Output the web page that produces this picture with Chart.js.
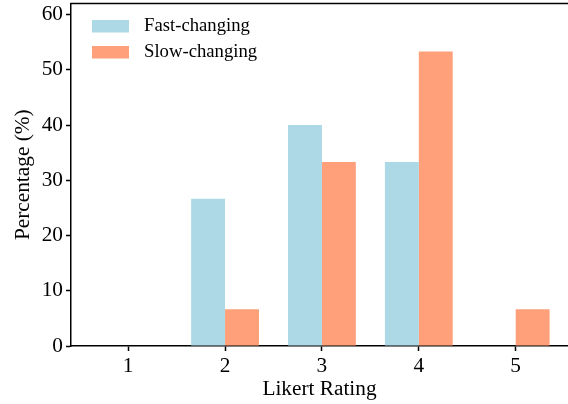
<!DOCTYPE html>
<html>
<head>
<meta charset="utf-8">
<script src="https://cdn.jsdelivr.net/npm/chart.js@4/dist/chart.umd.min.js"></script>
<style>
  html, body { margin: 0; padding: 0; background: #fff; }
  canvas { display: block; }
</style>
</head>
<body>
<canvas id="likert-canvas" width="568" height="404"></canvas>
<script>
var ratings = [1, 2, 3, 4, 5];
var ratingLabels = ['1', '2', '3', '4', '5'];
var fastValues = [0, 26.67, 40, 33.33, 0];
var slowValues = [0, 6.67, 33.33, 53.33, 6.67];
var yTicks = [0, 10, 20, 30, 40, 50, 60];

var fontFamily = '"Liberation Serif", "Times New Roman", serif';

// top spine (no right spine, it falls outside the canvas)
var topSpine = {
    id: 'topSpine',
    afterDraw: function(chart) {
        var ctx = chart.ctx, a = chart.chartArea;
        ctx.save();
        ctx.strokeStyle = '#000';
        ctx.lineWidth = 1.5;
        ctx.beginPath();
        ctx.moveTo(a.left - 0.75, a.top);
        ctx.lineTo(a.right, a.top);
        ctx.stroke();
        ctx.restore();
    }
};

// legend drawn inside the plot, upper left
var innerLegend = {
    id: 'innerLegend',
    afterDraw: function(chart) {
        var ctx = chart.ctx, a = chart.chartArea;
        ctx.save();
        ctx.font = '18.7px ' + fontFamily;
        ctx.textBaseline = 'middle';
        ctx.textAlign = 'left';
        chart.data.datasets.forEach(function(ds, i) {
            var y = a.top + 16.5 + i * 26;
            ctx.fillStyle = ds.backgroundColor;
            ctx.fillRect(a.left + 21, y, 37, 12.5);
            ctx.fillStyle = '#000';
            ctx.fillText(ds.label, a.left + 73, y + 6.5);
        });
        ctx.restore();
    }
};

var ctx = document.getElementById('likert-canvas').getContext('2d');

var likertChart = new Chart(ctx, {
    type: 'bar',
    data: {
        datasets: [
            {
                label: 'Fast-changing',
                data: ratings.map(function(r, i) { return {x: r, y: fastValues[i]}; }),
                backgroundColor: '#ADD8E6',
                borderWidth: 0
            },
            {
                label: 'Slow-changing',
                data: ratings.map(function(r, i) { return {x: r, y: slowValues[i]}; }),
                backgroundColor: '#FFA07A',
                borderWidth: 0
            }
        ]
    },
    options: {
        responsive: false,
        animation: false,
        layout: { padding: { top: 3.5, right: 0, left: 0, bottom: 0 } },
        datasets: {
            bar: { barPercentage: 1, categoryPercentage: 0.7 }
        },
        scales: {
            x: {
                type: 'linear',
                min: 0.41,
                max: 5.54,
                offset: false,
                afterBuildTicks: function(scale) {
                    scale.ticks = ratings.map(function(v) { return {value: v}; });
                },
                afterFit: function(scale) {
                    scale.height = 58;
                    scale.paddingLeft = 0;
                    scale.paddingRight = 0;
                },
                ticks: {
                    color: '#000',
                    padding: 3,
                    maxRotation: 0,
                    font: { family: fontFamily, size: 21.3 },
                    callback: function(value) {
                        var i = ratings.indexOf(value);
                        return i >= 0 ? ratingLabels[i] : '';
                    }
                },
                grid: {
                    display: true,
                    offset: false,
                    drawOnChartArea: false,
                    drawTicks: true,
                    tickLength: 5,
                    tickColor: '#000',
                    tickWidth: 1.5
                },
                border: { display: true, color: '#000', width: 1.5 },
                title: {
                    display: true,
                    text: 'Likert Rating',
                    color: '#000',
                    font: { family: fontFamily, size: 21.3 },
                    padding: { top: 0, bottom: 2 }
                }
            },
            y: {
                min: 0,
                max: 62,
                afterBuildTicks: function(scale) {
                    scale.ticks = yTicks.map(function(v) { return {value: v}; });
                },
                afterFit: function(scale) {
                    scale.width = 71;
                    scale.paddingTop = 0;
                    scale.paddingBottom = 0;
                },
                ticks: {
                    color: '#000',
                    padding: 3,
                    font: { family: fontFamily, size: 21.3 }
                },
                grid: {
                    display: true,
                    drawOnChartArea: false,
                    drawTicks: true,
                    tickLength: 5,
                    tickColor: '#000',
                    tickWidth: 1.5
                },
                border: { display: true, color: '#000', width: 1.5 },
                title: {
                    display: true,
                    text: 'Percentage (%)',
                    color: '#000',
                    font: { family: fontFamily, size: 21.3 },
                    padding: { top: 11, bottom: 0 }
                }
            }
        },
        plugins: {
            legend: { display: false },
            tooltip: { enabled: false }
        }
    },
    plugins: [topSpine, innerLegend]
});
</script>
</body>
</html>
